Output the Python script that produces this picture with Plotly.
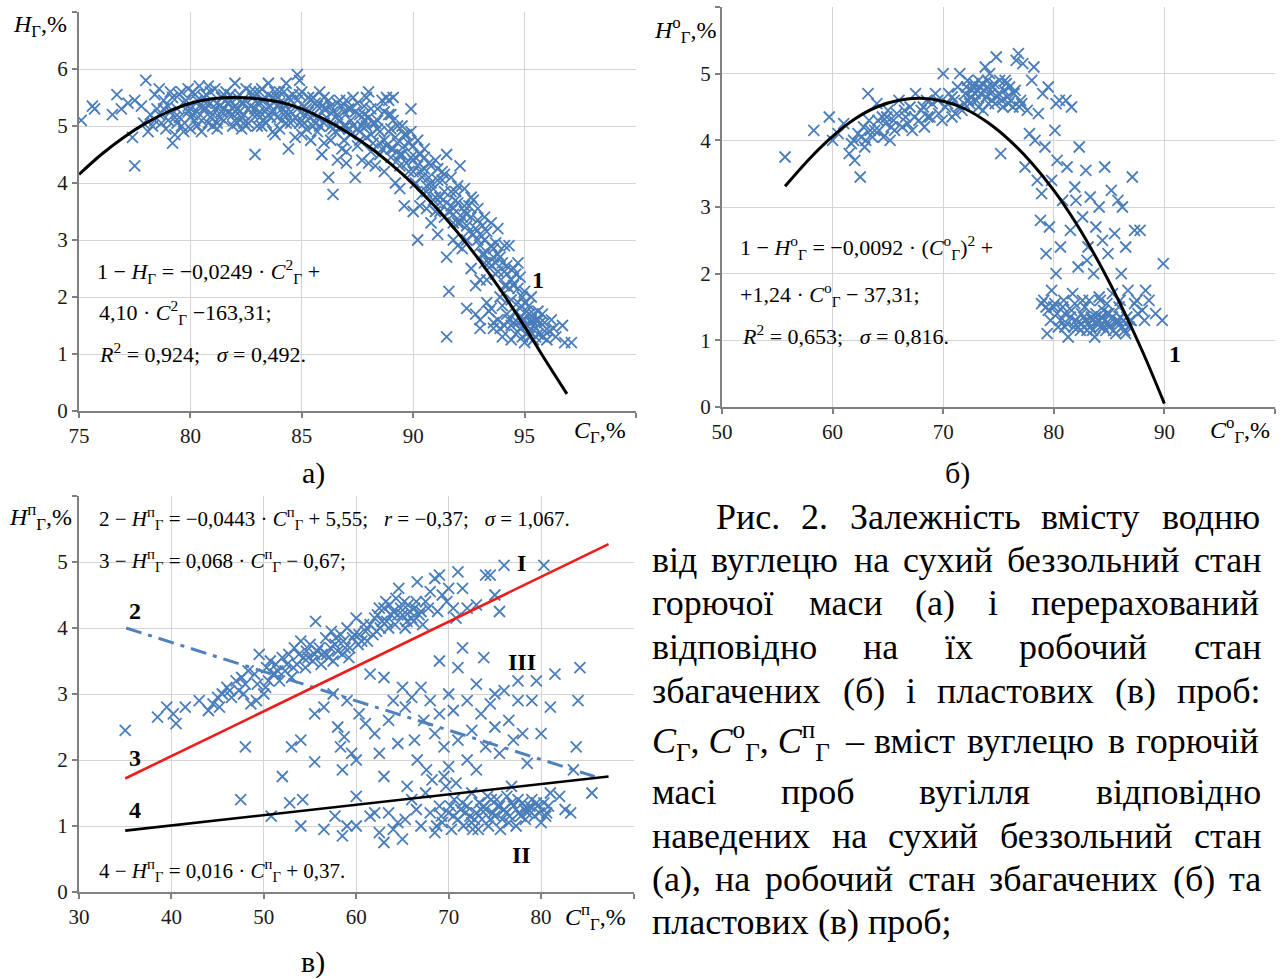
import glob
import struct

import plotly.graph_objects as go

W, H = 1282, 979
SERIF = "Liberation Serif"
BLUE = "#4a7ebb"
GRID = "#d4d4d4"
AXC = "#808080"


def px(x):
    return x / W


def py(y):
    return 1 - y / H


# ---------------- data: panel a ----------------
a_points = [
    (75.1, 5.1), (75.6, 5.35), (75.7, 5.3), (76.5, 5.2), (76.7, 5.55), (76.9, 5.3), (77.2, 5.4), (77.4, 4.8),
    (77.5, 5.45), (77.5, 4.3), (77.8, 5.35), (77.9, 5.05), (78.0, 5.8), (78.1, 4.9), (78.3, 5.0), (78.4, 5.55),
    (78.5, 5.3), (78.6, 5.2), (78.8, 5.45), (79.0, 5.1), (79.1, 5.6), (79.2, 4.7), (79.3, 4.85), (79.4, 5.3),
    (79.5, 5.55), (79.6, 5.0), (79.7, 5.4), (79.9, 5.25), (80.0, 4.95), (80.1, 5.6), (80.2, 5.1), (80.3, 5.45),
    (80.4, 5.7), (80.5, 4.9), (80.6, 5.3), (80.7, 5.55), (80.8, 5.05), (80.9, 5.4), (81.0, 5.2), (81.1, 5.65),
    (81.2, 4.95), (81.3, 5.35), (81.4, 5.5), (81.5, 5.1), (81.6, 5.6), (81.7, 5.25), (81.8, 5.45), (81.9, 5.0),
    (82.0, 5.75), (82.1, 5.3), (82.2, 5.55), (82.3, 5.15), (82.4, 5.4), (82.5, 5.65), (82.6, 5.05), (82.7, 5.35),
    (82.8, 5.5), (82.9, 4.5), (83.0, 5.2), (83.1, 5.6), (83.2, 5.0), (83.3, 5.45), (83.4, 5.3), (83.5, 5.75),
    (83.6, 5.15), (83.7, 5.5), (83.8, 4.85), (83.9, 5.35), (84.0, 5.6), (84.1, 5.1), (84.2, 5.4), (84.3, 5.75),
    (84.4, 4.6), (84.5, 5.25), (84.6, 5.55), (84.7, 4.8), (84.8, 5.9), (84.9, 5.8), (85.0, 5.1), (85.1, 5.35),
    (85.2, 4.95), (85.3, 5.5), (85.4, 4.75), (85.5, 5.2), (85.6, 5.4), (85.7, 4.9), (85.8, 5.6), (85.9, 4.5),
    (86.0, 5.05), (86.1, 5.3), (86.2, 4.1), (86.3, 4.75), (86.4, 3.8), (86.5, 5.15), (86.6, 4.4), (86.7, 5.45),
    (86.8, 4.6), (86.9, 5.0), (87.0, 4.35), (87.1, 5.3), (87.2, 4.85), (87.3, 5.5), (87.4, 4.1), (87.5, 4.65),
    (87.6, 5.2), (87.7, 4.4), (87.8, 5.35), (87.9, 4.8), (88.0, 5.6), (88.1, 4.55), (88.2, 5.05), (88.3, 4.3),
    (88.4, 5.3), (88.5, 4.7), (88.6, 5.45), (88.7, 4.2), (88.8, 5.5), (88.9, 4.9), (89.0, 4.45), (89.1, 5.1),
    (89.2, 4.0), (89.3, 4.7), (89.4, 3.9), (89.5, 4.5), (89.6, 3.6), (89.7, 4.85), (89.8, 4.2), (89.9, 5.3),
    (90.0, 3.5), (90.1, 4.0), (90.2, 3.0), (90.3, 4.5), (90.4, 3.8), (90.5, 4.25), (90.6, 3.55), (90.7, 4.1),
    (90.8, 3.3), (90.9, 3.9), (91.0, 4.4), (91.1, 3.1), (91.2, 3.75), (91.3, 4.2), (91.4, 3.4), (91.5, 2.7),
    (91.5, 4.5), (91.6, 2.1), (91.5, 1.3), (91.7, 3.6), (91.8, 3.0), (91.9, 3.85), (92.0, 3.3), (92.1, 4.3),
    (92.2, 2.85), (92.3, 3.5), (92.4, 1.8), (92.5, 3.15), (92.6, 2.5), (92.7, 3.7), (92.8, 2.2), (92.9, 3.0),
    (93.0, 1.6), (93.1, 2.75), (93.2, 3.4), (93.3, 2.3), (93.4, 1.75), (93.5, 2.9), (93.6, 1.45), (93.7, 2.6),
    (93.8, 3.2), (93.9, 2.0), (94.0, 1.3), (94.1, 2.45), (94.2, 1.7), (94.3, 2.9), (94.4, 1.5), (94.5, 2.2),
    (94.6, 1.35), (94.7, 1.9), (94.8, 2.35), (94.9, 1.6), (95.0, 1.2), (95.1, 1.75), (95.2, 1.4), (95.3, 2.0),
    (95.4, 1.25), (95.5, 1.6), (95.6, 1.35), (95.8, 1.7), (96.0, 1.25), (96.3, 1.45), (96.7, 1.5), (96.8, 1.2),
    (97.1, 1.2), (92.0, 2.9), (93.0, 2.3), (94.2, 2.4), (94.5, 1.55), (95.1, 1.5),
    (78.2, 5.2), (78.7, 5.05), (79.0, 5.35), (79.3, 5.15), (79.8, 5.45), (80.0, 5.3), (80.3, 5.0), (80.6, 5.5),
    (80.9, 5.15), (81.2, 5.4), (81.5, 5.3), (81.8, 5.55), (82.1, 5.05), (82.4, 5.2), (82.7, 5.6), (83.0, 5.4),
    (83.3, 5.1), (83.6, 5.35), (83.9, 5.5), (84.2, 5.2), (84.5, 5.05), (84.8, 5.45), (85.1, 5.2), (85.4, 5.45),
    (85.7, 5.15), (86.0, 5.3), (86.3, 5.0), (86.6, 5.2), (86.9, 4.75), (87.2, 5.1), (87.5, 4.95), (87.8, 5.1),
    (88.1, 4.85), (88.4, 4.95), (88.7, 4.75), (89.0, 4.95), (89.3, 4.4), (89.6, 4.65), (89.9, 4.45), (90.2, 4.3),
    (90.5, 4.6), (90.8, 4.0), (91.1, 4.25), (91.4, 3.85), (91.7, 4.1), (92.0, 3.65), (92.3, 3.9), (92.6, 3.4),
    (92.9, 3.55), (93.2, 3.0), (93.5, 3.3), (93.8, 2.75), (94.1, 2.9), (94.4, 2.3), (94.7, 2.6), (95.0, 1.9),
    (95.3, 1.6), (95.6, 1.75), (95.9, 1.55), (94.0, 1.85), (93.8, 1.6), (94.6, 1.75), (95.2, 1.3), (93.5, 1.8),
    (93.0, 1.45), (92.8, 1.7), (80.0, 5.15), (81.0, 5.0), (82.0, 5.35), (83.0, 5.0), (84.0, 4.95), (85.0, 4.85),
    (86.0, 4.7), (87.0, 4.55), (88.0, 4.35), (89.0, 4.6), (90.0, 4.65), (90.3, 3.6), (91.0, 3.5), (91.8, 3.3),
    (92.4, 3.0), (93.2, 2.6), (93.7, 2.4),
    (78.6, 5.65), (79.2, 5.5), (79.9, 5.65), (80.3, 5.25), (80.8, 5.7), (81.3, 5.15), (81.6, 5.45), (82.2, 5.25),
    (82.5, 5.0), (82.9, 5.3), (83.2, 5.65), (83.5, 5.2), (83.8, 5.6), (84.1, 5.3), (84.4, 5.5), (84.7, 5.15),
    (85.0, 5.6), (85.3, 5.25), (85.6, 5.05), (85.9, 5.35), (86.2, 5.45), (86.5, 4.9), (86.8, 5.35), (87.1, 4.95),
    (87.4, 5.25), (87.7, 5.0), (88.0, 5.15), (88.3, 5.05), (88.6, 4.6), (88.9, 5.2), (89.2, 4.8), (89.5, 5.0),
    (89.8, 4.7), (90.1, 4.45), (90.4, 4.1), (90.7, 4.35), (91.0, 3.75), (91.3, 4.05), (91.6, 3.5), (91.9, 3.7),
    (92.2, 3.4), (92.5, 3.6), (92.8, 3.2), (93.1, 3.25), (93.4, 2.6), (93.7, 2.95), (94.0, 2.6), (94.3, 2.15),
    (94.6, 2.4), (94.9, 2.0), (95.2, 1.85), (95.5, 1.45), (95.8, 1.3), (94.1, 1.5), (94.8, 1.45), (95.4, 1.7),
    (96.1, 1.4), (93.6, 1.55), (94.4, 1.25), (95.0, 1.6), (89.1, 5.5), (88.9, 5.45), (87.9, 5.5), (87.0, 5.0),
    (86.4, 5.25), (79.5, 5.15), (78.9, 4.95), (80.7, 5.3), (81.9, 5.2), (83.1, 5.25), (84.3, 5.05), (85.5, 5.0),
    (86.7, 4.95), (87.6, 4.75), (88.5, 4.5), (89.4, 4.3), (90.0, 4.2), (90.6, 3.85), (91.2, 3.65), (91.8, 3.45),
    (92.4, 3.25), (93.0, 2.9), (93.6, 2.7), (94.2, 2.2), (94.8, 1.8), (95.4, 1.5), (79.7, 4.9), (82.3, 4.95),
    (83.7, 4.9), (84.9, 5.05),
    (78.4, 5.1), (78.8, 5.3), (79.1, 5.25), (79.4, 5.05), (79.6, 5.6), (79.9, 5.35), (80.1, 5.2), (80.2, 5.55),
    (80.4, 5.35), (80.5, 5.1), (80.7, 5.4), (80.9, 5.6), (81.1, 5.3), (81.2, 5.05), (81.4, 5.25), (81.5, 5.55),
    (81.7, 5.4), (81.9, 5.3), (82.0, 5.1), (82.1, 5.5), (82.3, 5.4), (82.4, 5.05), (82.6, 5.3), (82.8, 5.2),
    (82.9, 5.6), (83.1, 5.15), (83.2, 5.45), (83.4, 5.05), (83.5, 5.55), (83.7, 5.25), (83.9, 5.15), (84.0, 5.4),
    (84.2, 5.6), (84.3, 5.25), (84.5, 5.45), (84.6, 5.1), (84.8, 5.3), (84.9, 5.55), (85.1, 5.05), (85.2, 5.3),
    (85.4, 5.15), (85.5, 5.5), (85.7, 5.35), (85.8, 5.0), (86.0, 5.5), (86.1, 5.15), (86.3, 5.35), (86.4, 4.95),
    (86.6, 5.4), (86.7, 5.1), (86.9, 5.25), (87.0, 5.45), (87.2, 5.3), (87.3, 5.0), (87.5, 5.4), (87.6, 4.9),
    (87.8, 5.2), (87.9, 5.0), (88.1, 5.3), (88.2, 4.7), (88.4, 5.1), (88.5, 4.9), (88.7, 5.25), (88.8, 4.65),
    (89.0, 5.2), (89.1, 4.6), (89.3, 5.0), (89.4, 4.5), (89.6, 4.85), (89.7, 4.35), (89.9, 4.9), (90.0, 4.4),
    (90.2, 4.75), (90.3, 4.2), (90.5, 4.45), (90.6, 3.95), (90.8, 4.3), (90.9, 3.7), (91.1, 4.05), (91.2, 3.5),
    (91.4, 4.15), (91.5, 3.65), (91.7, 3.85), (91.8, 3.55), (92.0, 3.95), (92.1, 3.3), (92.3, 3.6), (92.4, 3.45),
    (92.6, 3.75), (92.7, 3.1), (92.9, 3.35), (93.0, 3.1), (93.2, 2.75), (93.3, 3.15), (93.5, 2.55), (93.6, 2.85),
    (93.8, 2.45), (93.9, 2.7), (94.1, 2.2), (94.2, 2.55), (94.4, 1.95), (94.5, 2.5), (94.7, 2.15), (94.8, 1.65),
    (95.0, 2.1), (95.1, 1.35), (95.3, 1.55), (95.5, 1.3), (95.7, 1.55), (95.9, 1.4), (96.2, 1.6), (96.4, 1.3),
    (93.9, 1.45), (94.3, 1.6), (94.9, 1.3), (95.6, 1.6), (95.2, 1.7), (94.7, 1.55), (93.3, 1.9),
]
a_curve_x = [75, 76, 77, 78, 79, 80, 81, 82, 83, 84, 85, 86, 87, 88, 89, 90, 91, 92, 93, 94, 95, 96, 96.9]
a_curve_y = [4.15, 4.5, 4.8, 5.05, 5.25, 5.4, 5.48, 5.5, 5.48, 5.42, 5.3, 5.12, 4.9, 4.64, 4.33, 3.98,
             3.58, 3.13, 2.63, 2.08, 1.48, 0.85, 0.3]

# ---------------- data: panel b ----------------
b_points = [
    (55.7, 3.75), (58.3, 4.15), (59.7, 4.35), (60.0, 4.0), (60.5, 4.1), (61.0, 4.25), (61.5, 3.8), (61.7, 3.95),
    (62.0, 3.7), (62.3, 4.1), (62.5, 3.45), (62.8, 4.2), (63.0, 4.0), (63.2, 4.7), (63.3, 4.3), (63.6, 4.05),
    (64.0, 4.55), (64.2, 4.15), (64.5, 4.35), (64.8, 4.25), (65.0, 4.45), (65.2, 4.0), (65.5, 4.3), (65.8, 4.4),
    (66.0, 4.6), (66.3, 4.2), (66.6, 4.35), (67.0, 4.5), (67.2, 4.15), (67.5, 4.7), (67.8, 4.3), (68.0, 4.45),
    (68.3, 4.2), (68.5, 4.6), (68.8, 4.35), (69.0, 4.55), (69.3, 4.7), (69.6, 4.4), (70.0, 5.0), (70.2, 4.5),
    (70.5, 4.7), (70.8, 4.35), (71.0, 4.6), (71.3, 4.8), (71.5, 5.0), (71.7, 4.45), (72.0, 4.7), (72.2, 4.9),
    (72.4, 4.55), (72.6, 4.75), (72.8, 4.85), (73.0, 4.6), (73.2, 4.9), (73.4, 4.7), (73.6, 4.45), (73.8, 5.1),
    (74.0, 4.8), (74.2, 5.0), (74.4, 4.6), (74.6, 4.85), (74.8, 5.25), (75.0, 4.7), (75.2, 3.8), (75.4, 4.5),
    (75.6, 4.9), (75.8, 4.65), (76.0, 4.8), (76.3, 4.5), (76.6, 5.2), (76.8, 5.3), (77.0, 4.6), (77.2, 5.15),
    (77.4, 3.6), (77.6, 4.45), (77.8, 4.1), (78.0, 4.9), (78.2, 5.1), (78.3, 4.0), (78.5, 3.4), (78.6, 4.4),
    (78.8, 2.8), (78.9, 3.2), (79.0, 4.7), (79.1, 1.6), (79.2, 3.9), (79.3, 2.3), (79.4, 1.1), (79.5, 4.8),
    (79.6, 2.7), (79.8, 3.4), (80.0, 1.5), (80.1, 4.15), (80.2, 2.0), (80.3, 3.7), (80.4, 1.2), (80.5, 4.6),
    (80.6, 2.4), (80.8, 3.1), (81.0, 1.4), (81.2, 3.6), (81.3, 1.05), (81.5, 2.65), (81.6, 4.5), (81.7, 1.7),
    (81.9, 3.3), (82.0, 1.3), (82.2, 2.1), (82.3, 3.9), (82.5, 1.25), (82.6, 2.85), (82.8, 1.5), (82.9, 3.55),
    (83.0, 1.15), (83.1, 2.4), (83.3, 3.15), (83.4, 1.35), (83.6, 2.0), (83.7, 1.05), (83.8, 2.7), (84.0, 1.3),
    (84.1, 3.0), (84.2, 1.6), (84.4, 2.5), (84.5, 1.2), (84.6, 3.6), (84.8, 1.4), (84.9, 2.3), (85.0, 1.25),
    (85.2, 3.25), (85.3, 1.7), (85.5, 2.6), (85.6, 1.1), (85.8, 3.1), (86.0, 1.35), (86.1, 2.0), (86.2, 3.0),
    (86.4, 1.15), (86.5, 2.4), (86.7, 1.75), (86.9, 1.3), (87.1, 3.45), (87.3, 2.65), (87.5, 1.6), (87.8, 2.65),
    (88.0, 1.45), (88.3, 1.75), (88.6, 1.6), (89.2, 1.4), (89.8, 1.3), (89.9, 2.15), (81.5, 1.35), (82.5, 1.4),
    (83.5, 1.3), (84.5, 1.45), (85.0, 1.2), (79.5, 1.45), (80.8, 1.5), (82.0, 3.1), (83.0, 2.2), (80.2, 4.55),
    (81.1, 4.6), (79.8, 1.75), (78.9, 1.55), (81.8, 1.2), (83.8, 1.4), (86.5, 1.1), (87.0, 1.3),
    (72.3, 4.6), (72.7, 4.8), (73.1, 4.75), (73.5, 4.85), (73.9, 4.65), (74.3, 4.7), (74.7, 4.55), (75.1, 4.9),
    (75.5, 4.75), (75.9, 4.55), (76.4, 4.7), (77.1, 4.55), (71.4, 4.5), (70.8, 4.65), (69.9, 4.3), (65.3, 4.2),
    (64.6, 4.05), (63.8, 4.15), (62.9, 3.9), (61.9, 4.0), (66.8, 4.25), (68.6, 4.35), (82.2, 1.2), (82.9, 1.3),
    (83.3, 1.2), (83.9, 1.25), (84.3, 1.35), (84.7, 1.15), (85.3, 1.35), (85.7, 1.25), (86.3, 1.3), (81.2, 1.25),
    (80.6, 1.3), (80.1, 1.55), (79.3, 1.5), (86.8, 1.2), (87.3, 1.55), (85.9, 1.5), (83.2, 1.6), (81.9, 1.55),
    (84.1, 1.65),
    (72.1, 4.8), (72.5, 4.65), (72.9, 4.7), (73.3, 4.8), (73.7, 4.75), (74.1, 4.55), (74.5, 4.8), (74.9, 4.65),
    (75.3, 4.6), (75.7, 4.85), (76.1, 4.6), (76.5, 4.75), (76.9, 4.5), (73.2, 4.5), (74.0, 4.9), (71.9, 4.55),
    (71.1, 4.4), (70.4, 4.55), (69.5, 4.6), (68.2, 4.5), (67.4, 4.35), (66.5, 4.45), (65.6, 4.15), (64.9, 4.35),
    (64.1, 4.3), (63.4, 4.15), (62.6, 4.05), (82.4, 1.15), (82.7, 1.35), (83.1, 1.25), (83.5, 1.15), (83.8, 1.35),
    (84.2, 1.2), (84.6, 1.3), (85.0, 1.4), (85.4, 1.15), (85.8, 1.3), (86.2, 1.2), (86.6, 1.35), (81.6, 1.45),
    (81.0, 1.2), (80.3, 1.4), (79.7, 1.3), (80.9, 1.6), (82.6, 1.6), (84.8, 1.55), (86.0, 1.6), (87.6, 1.4),
    (88.2, 1.3),
]
b_curve_x = [55.7, 58, 60, 62, 64, 66, 68, 70, 72, 74, 76, 78, 80, 82, 84, 86, 88, 90]
b_curve_y = [3.31, 3.74, 4.06, 4.32, 4.5, 4.6, 4.63, 4.585, 4.47, 4.27, 4.0, 3.66, 3.25, 2.76, 2.19,
             1.55, 0.84, 0.05]

# ---------------- data: panel c ----------------
c_points = [
    (35.0, 2.45), (38.5, 2.65), (39.5, 2.8), (40.2, 2.7), (40.5, 2.55), (41.5, 2.8), (43.0, 2.9), (44.0, 2.75),
    (44.5, 2.85), (45.0, 2.95), (45.5, 3.0), (46.0, 3.1), (46.5, 2.95), (47.0, 3.2), (47.3, 3.05), (47.6, 3.25),
    (48.0, 3.15), (48.3, 3.35), (48.6, 2.85), (49.0, 3.3), (49.5, 3.6), (50.0, 3.0), (50.3, 3.4), (50.7, 3.5),
    (51.0, 3.3), (51.3, 3.45), (51.7, 3.2), (52.0, 3.55), (52.3, 3.35), (52.7, 3.6), (53.0, 3.25), (53.3, 3.7),
    (53.6, 3.45), (54.0, 3.8), (54.3, 3.55), (54.6, 3.65), (55.0, 3.75), (55.3, 3.5), (55.6, 4.1), (56.0, 3.7),
    (56.3, 3.6), (56.7, 3.85), (57.0, 3.55), (57.3, 3.95), (57.7, 3.75), (58.0, 3.65), (58.3, 3.9), (58.6, 3.8),
    (59.0, 4.0), (59.3, 3.7), (59.6, 3.85), (60.0, 4.15), (60.3, 3.9), (60.6, 3.8), (61.0, 3.95), (61.5, 4.05),
    (62.0, 4.15), (62.3, 4.2), (62.6, 4.0), (63.0, 4.3), (63.3, 4.1), (63.6, 4.35), (64.0, 4.25), (64.3, 4.45),
    (64.6, 4.6), (65.0, 4.2), (65.3, 4.0), (65.6, 4.35), (66.0, 4.15), (66.3, 4.3), (66.6, 4.7), (67.0, 4.25),
    (67.5, 4.4), (68.0, 4.55), (68.5, 4.75), (69.0, 4.8), (69.3, 4.5), (70.0, 4.6), (70.5, 4.3), (71.0, 4.85),
    (71.5, 4.6), (72.0, 4.3), (73.0, 4.35), (74.0, 4.8), (74.5, 4.8), (75.5, 4.25), (75.0, 4.5), (76.0, 4.95),
    (80.3, 4.95),
    (48.0, 2.2), (52.0, 1.75), (53.0, 2.2), (54.0, 2.3), (55.5, 2.7), (55.5, 1.97), (56.5, 2.8), (57.5, 3.0),
    (58.0, 2.5), (58.3, 2.2), (58.5, 1.85), (58.7, 2.35), (59.0, 2.9), (59.5, 2.1), (60.0, 2.0), (60.0, 1.45),
    (60.3, 2.7), (61.0, 2.55), (61.5, 3.3), (62.0, 2.4), (62.5, 2.1), (63.0, 1.75), (63.0, 3.25), (63.5, 2.6),
    (64.0, 2.9), (64.5, 2.25), (65.0, 3.1), (65.3, 2.8), (65.5, 1.6), (66.0, 2.95), (66.3, 2.3), (66.6, 2.0),
    (67.0, 3.1), (67.3, 2.6), (67.6, 1.85), (68.0, 2.9), (68.5, 2.4), (69.0, 3.5), (69.0, 2.7), (69.5, 2.2),
    (70.0, 3.0), (70.0, 1.9), (70.5, 2.75), (71.0, 3.4), (71.0, 2.3), (71.5, 3.7), (72.0, 2.9), (72.0, 2.0),
    (72.5, 2.45), (73.0, 3.15), (73.0, 1.85), (73.5, 2.7), (73.8, 3.55), (74.0, 2.2), (74.5, 2.85), (75.0, 3.0),
    (75.0, 2.5), (75.5, 2.1), (76.0, 3.05), (76.5, 2.6), (77.0, 2.3), (77.5, 2.9), (77.5, 3.2), (78.0, 2.4),
    (78.5, 1.95), (79.0, 2.9), (79.5, 3.2), (80.0, 2.4), (81.0, 2.8), (81.5, 3.3), (83.8, 2.2), (84.0, 2.9),
    (84.2, 3.4), (83.5, 1.85), (85.5, 1.5),
    (47.5, 1.4), (50.8, 1.15), (52.8, 1.35), (54.0, 1.0), (54.2, 1.4), (56.5, 0.95), (57.7, 1.15), (58.5, 0.85),
    (59.0, 1.0), (60.0, 1.0), (61.5, 1.15), (62.0, 1.2), (62.5, 0.9), (63.0, 0.75), (63.5, 1.2), (64.0, 0.95),
    (64.5, 1.05), (65.0, 0.8), (65.3, 1.1), (66.0, 1.4), (66.5, 1.25), (67.0, 1.0), (67.5, 1.5), (68.0, 1.2),
    (68.5, 0.9), (69.0, 1.3), (69.3, 1.05), (69.7, 1.6), (70.0, 1.2), (70.3, 0.95), (70.6, 1.4), (71.0, 1.1),
    (71.3, 1.25), (71.6, 1.0), (72.0, 1.3), (72.3, 1.15), (72.6, 0.95), (73.0, 1.2), (73.3, 1.35), (73.6, 1.1),
    (74.0, 1.25), (74.3, 1.0), (74.6, 1.4), (75.0, 1.15), (75.3, 1.3), (75.6, 0.95), (76.0, 1.25), (76.3, 1.45),
    (76.6, 1.15), (77.0, 1.3), (77.3, 1.0), (77.6, 1.2), (78.0, 1.35), (78.3, 1.1), (78.6, 1.25), (79.0, 1.4),
    (79.3, 1.15), (79.6, 1.3), (80.0, 1.05), (80.3, 1.35), (80.6, 1.2), (81.0, 1.5), (82.0, 1.45), (82.6, 1.25),
    (83.2, 1.2), (68.2, 1.7), (69.5, 1.75), (70.8, 1.65), (72.5, 1.5), (76.8, 1.6),
    (46.3, 3.05), (47.8, 3.0), (49.3, 3.15), (50.5, 3.2), (51.5, 3.35), (52.5, 3.45), (53.8, 3.6), (54.8, 3.55),
    (55.8, 3.65), (56.8, 3.6), (57.8, 3.85), (58.8, 3.7), (59.8, 3.9), (60.8, 4.05), (61.8, 3.9), (62.8, 4.1),
    (63.8, 4.2), (64.8, 4.3), (65.8, 4.25), (66.8, 4.2), (67.8, 4.3), (68.8, 4.25), (69.8, 4.4), (70.8, 4.15),
    (63.2, 4.4), (64.2, 4.05), (65.2, 4.4), (66.2, 4.1), (67.2, 4.05), (62.2, 3.95), (61.2, 3.8), (60.2, 3.75),
    (59.2, 3.55), (57.2, 3.7), (56.2, 3.45), (53.2, 3.4), (51.2, 3.3), (50.2, 3.1), (49.2, 2.9), (45.2, 2.8),
    (71.8, 1.2), (72.8, 1.1), (73.8, 1.3), (74.8, 1.2), (75.8, 1.1), (76.8, 1.35), (77.8, 1.15), (78.8, 1.3),
    (79.8, 1.2), (80.8, 1.3), (70.2, 1.3), (69.2, 1.15), (68.7, 1.0), (73.2, 0.95), (75.2, 1.4), (74.2, 1.45),
    (76.2, 1.2), (78.2, 1.25),
    (70.5, 1.15), (71.5, 1.35), (72.5, 1.05), (73.5, 1.25), (74.5, 1.1), (75.5, 1.3), (76.5, 1.05), (77.5, 1.4),
    (78.5, 1.2), (79.5, 1.35), (80.5, 1.15), (64.5, 4.2), (65.5, 4.1), (66.5, 4.4), (63.5, 4.0), (62.5, 4.3),
    (58.5, 3.6), (57.5, 3.5), (55.5, 3.6), (54.5, 3.4),
]
c_line2_x = [35.1, 85.8]
c_line2_y = [4.0, 1.75]
c_line3_x = [35.0, 87.3]
c_line3_y = [1.72, 5.27]
c_line4_x = [35.0, 87.3]
c_line4_y = [0.93, 1.75]

# tick labels
a_xticks = [75, 80, 85, 90, 95, 100]
a_xlabels = ["75", "80", "85", "90", "95", ""]
a_yticks = [0, 1, 2, 3, 4, 5, 6, 7]
a_ylabels = ["0", "1", "2", "3", "4", "5", "6", ""]
b_xticks = [50, 60, 70, 80, 90, 100]
b_xlabels = ["50", "60", "70", "80", "90", ""]
b_yticks = [0, 1, 2, 3, 4, 5, 6]
b_ylabels = ["0", "1", "2", "3", "4", "5", ""]
c_xticks = [30, 40, 50, 60, 70, 80, 90]
c_xlabels = ["30", "40", "50", "60", "70", "80", ""]
c_yticks = [0, 1, 2, 3, 4, 5, 6]
c_ylabels = ["0", "1", "2", "3", "4", "5", ""]

# caption text (words of each justified line)
caption_words = [
    ["Рис.", "2.", "Залежність", "вмісту", "водню"],
    ["від", "вуглецю", "на", "сухий", "беззольний", "стан"],
    ["горючої", "маси", "(а)", "і", "перерахований"],
    ["відповідно", "на", "їх", "робочий", "стан"],
    ["збагачених", "(б)", "і", "пластових", "(в)", "проб:"],
    ["MATH", "–", "вміст", "вуглецю", "в", "горючій"],
    ["масі", "проб", "вугілля", "відповідно"],
    ["наведених", "на", "сухий", "беззольний", "стан"],
    ["(а),", "на", "робочий", "стан", "збагачених", "(б)", "та"],
    ["пластових", "(в)", "проб;"],
]


# ---------- text measuring (for justified caption layout) ----------
def make_measure():
    paths = glob.glob("/usr/share/fonts/**/LiberationSerif-Regular.ttf", recursive=True)
    if not paths:
        return None
    try:
        data = open(paths[0], "rb").read()
        nt = struct.unpack(">H", data[4:6])[0]
        tables = {}
        for i in range(nt):
            tag, _, off, ln = struct.unpack(">4sIII", data[12 + 16 * i:28 + 16 * i])
            tables[tag.decode("latin1")] = off
        upem = struct.unpack(">H", data[tables["head"] + 18:tables["head"] + 20])[0]
        nhm = struct.unpack(">H", data[tables["hhea"] + 34:tables["hhea"] + 36])[0]
        ho = tables["hmtx"]
        adv = [struct.unpack(">H", data[ho + 4 * i:ho + 4 * i + 2])[0] for i in range(nhm)]
        co = tables["cmap"]
        n = struct.unpack(">H", data[co + 2:co + 4])[0]
        sub = None
        for i in range(n):
            pid, eid, so = struct.unpack(">HHI", data[co + 4 + 8 * i:co + 12 + 8 * i])
            fmt = struct.unpack(">H", data[co + so:co + so + 2])[0]
            if pid == 3 and eid == 1 and fmt == 4:
                sub = co + so
        if sub is None:
            return None
        segx2 = struct.unpack(">H", data[sub + 6:sub + 8])[0]
        seg = segx2 // 2
        ends = struct.unpack(">%dH" % seg, data[sub + 14:sub + 14 + segx2])
        starts = struct.unpack(">%dH" % seg, data[sub + 16 + segx2:sub + 16 + 2 * segx2])
        deltas = struct.unpack(">%dh" % seg, data[sub + 16 + 2 * segx2:sub + 16 + 3 * segx2])
        rpos = sub + 16 + 3 * segx2
        roffs = struct.unpack(">%dH" % seg, data[rpos:rpos + segx2])

        def gid(c):
            for i in range(seg):
                if starts[i] <= c <= ends[i]:
                    if roffs[i] == 0:
                        return (c + deltas[i]) & 0xFFFF
                    addr = rpos + 2 * i + roffs[i] + 2 * (c - starts[i])
                    g = struct.unpack(">H", data[addr:addr + 2])[0]
                    return (g + deltas[i]) & 0xFFFF if g else 0
            return 0

        def measure(s, size):
            tot = 0
            for ch in s:
                g = gid(ord(ch))
                tot += adv[min(g, nhm - 1)]
            return tot * size / upem

        return measure
    except Exception:
        return None


_m = make_measure()


def measure(s, size):
    if _m is not None:
        return _m(s, size)
    return sum(0.28 if ch in " іїl.,:;()" else 0.48 for ch in s) * size


marker = dict(symbol="x-thin", size=11, line=dict(width=1.8, color=BLUE), color=BLUE)

fig = go.Figure()
fig.add_trace(go.Scatter(x=[p[0] for p in a_points], y=[p[1] for p in a_points], mode="markers",
                         marker=marker, xaxis="x", yaxis="y", showlegend=False))
fig.add_trace(go.Scatter(x=a_curve_x, y=a_curve_y, mode="lines", line=dict(color="black", width=3, shape="spline"),
                         xaxis="x", yaxis="y", showlegend=False))
fig.add_trace(go.Scatter(x=[p[0] for p in b_points], y=[p[1] for p in b_points], mode="markers",
                         marker=marker, xaxis="x2", yaxis="y2", showlegend=False))
fig.add_trace(go.Scatter(x=b_curve_x, y=b_curve_y, mode="lines", line=dict(color="black", width=3, shape="spline"),
                         xaxis="x2", yaxis="y2", showlegend=False))
fig.add_trace(go.Scatter(x=[p[0] for p in c_points], y=[p[1] for p in c_points], mode="markers",
                         marker=marker, xaxis="x3", yaxis="y3", showlegend=False))
fig.add_trace(go.Scatter(x=c_line2_x, y=c_line2_y, mode="lines",
                         line=dict(color="#4f81bd", width=3, dash="16px,7px,4px,7px"),
                         xaxis="x3", yaxis="y3", showlegend=False))
fig.add_trace(go.Scatter(x=c_line3_x, y=c_line3_y, mode="lines", line=dict(color="#ee1c1c", width=2.6),
                         xaxis="x3", yaxis="y3", showlegend=False))
fig.add_trace(go.Scatter(x=c_line4_x, y=c_line4_y, mode="lines", line=dict(color="black", width=2.6),
                         xaxis="x3", yaxis="y3", showlegend=False))


def axis(domain, rng, tv, tt, anchor):
    return dict(domain=domain, range=rng, tickvals=tv, ticktext=tt, anchor=anchor, automargin=False,
                showgrid=True, gridcolor=GRID, gridwidth=1.3, zeroline=False,
                showline=True, linecolor=AXC, linewidth=2, ticks="outside", ticklen=5,
                tickcolor=AXC, tickwidth=1.5,
                tickfont=dict(family=SERIF, size=21, color="#1a1a1a"))


fig.update_layout(
    width=W, height=H, margin=dict(l=0, r=0, t=0, b=0, pad=0), autosize=False,
    paper_bgcolor="white", plot_bgcolor="white",
    xaxis=axis([px(79), px(636)], [75, 100], a_xticks, a_xlabels, "y"),
    yaxis=axis([py(411), py(12)], [0, 7], a_yticks, a_ylabels, "x"),
    xaxis2=axis([px(722), px(1275)], [50, 100], b_xticks, b_xlabels, "y2"),
    yaxis2=axis([py(407), py(7)], [0, 6], b_yticks, b_ylabels, "x2"),
    xaxis3=axis([px(79), px(633.5)], [30, 90], c_xticks, c_xlabels, "y3"),
    yaxis3=axis([py(892), py(496)], [0, 6], c_yticks, c_ylabels, "x3"),
)

# white boxes behind equations (hide gridlines)
boxes = [(88, 250, 342, 372), (733, 226, 997, 354), (92, 499, 622, 541), (92, 541, 355, 578), (92, 850, 358, 890)]
for x0, y0, x1, y1 in boxes:
    fig.add_shape(type="rect", xref="paper", yref="paper", x0=px(x0), x1=px(x1), y0=py(y1), y1=py(y0),
                  fillcolor="white", line=dict(width=0), layer="between")

ann = []


def text(x, y, s, size=22, anchor="left", bold=False, color="black"):
    if bold:
        s = "<b>" + s + "</b>"
    ann.append(dict(x=px(x), y=py(y), xref="paper", yref="paper", text=s, showarrow=False,
                    xanchor=anchor, yanchor="middle", font=dict(family=SERIF, size=size, color=color)))


H_ = "<i>H</i>"
C_ = "<i>C</i>"
G = "<sub>Г</sub>"

# panel a
text(40, 26, H_ + G + ",%", 24, "center")
text(600, 432, C_ + G + ",%", 24, "center")
text(95, 271, "1 − " + H_ + G + " = −0,0249 · " + C_ + "<sup>2</sup>" + G + " +", 22)
text(97, 312, "4,10 · " + C_ + "<sup>2</sup>" + G + " −163,31;", 22)
text(97, 353, "<i>R</i><sup>2</sup> = 0,924;   <i>σ</i> = 0,492.", 22)
text(538, 280, "1", 24, "center", bold=True)
text(313, 473, "а)", 30, "center")

# panel b
text(685, 30, H_ + "<sup>о</sup>" + G + ",%", 24, "center")
text(1240, 430, C_ + "<sup>о</sup>" + G + ",%", 24, "center")
text(738, 247, "1 − " + H_ + "<sup>о</sup>" + G + " = −0,0092 · (" + C_ + "<sup>о</sup>" + G + ")<sup>2</sup> +", 22)
text(738, 294, "+1,24 · " + C_ + "<sup>о</sup>" + G + " − 37,31;", 22)
text(740, 335, "<i>R</i><sup>2</sup> = 0,653;   <i>σ</i> = 0,816.", 22)
text(1175, 354, "1", 24, "center", bold=True)
text(957, 473, "б)", 30, "center")

# panel c
text(40, 517, H_ + "<sup>п</sup>" + G + ",%", 24, "center")
text(595, 917, C_ + "<sup>п</sup>" + G + ",%", 24, "center")
text(97, 518, "2 − " + H_ + "<sup>п</sup>" + G + " = −0,0443 · " + C_ + "<sup>п</sup>" + G
     + " + 5,55;   <i>r</i> = −0,37;   <i>σ</i> = 1,067.", 21)
text(97, 560, "3 − " + H_ + "<sup>п</sup>" + G + " = 0,068 · " + C_ + "<sup>п</sup>" + G + " − 0,67;", 21)
text(97, 870, "4 − " + H_ + "<sup>п</sup>" + G + " = 0,016 · " + C_ + "<sup>п</sup>" + G + " + 0,37.", 21)
text(521, 563, "I", 24, "center", bold=True)
text(522, 662, "III", 24, "center", bold=True)
text(521, 855, "II", 24, "center", bold=True)
text(135, 611, "2", 24, "center", bold=True)
text(135, 758, "3", 24, "center", bold=True)
text(135, 810, "4", 24, "center", bold=True)
text(313, 962, "в)", 30, "center")

# caption: justified between left/right margins
LEFT, RIGHT, INDENT = 652, 1261, 716
line_y = [517, 560, 603, 647, 691, 741, 792, 836, 879, 922]
MATH = C_ + G + ", " + C_ + "<sup>о</sup>" + G + ", " + C_ + "<sup>п</sup>" + G


def word_w(w, size):
    if w == "MATH":
        return 5.05 * size  # approx width of "C_Г, C°_Г, Cп_Г"
    return measure(w, size)


# font size so that the tightest justified line fits
sizes = []
for i, words in enumerate(caption_words[:-1]):
    if "MATH" in words:
        continue
    left = INDENT if i == 0 else LEFT
    nat = sum(word_w(w, 1.0) for w in words) + measure(" ", 1.0) * 1.05 * (len(words) - 1)
    sizes.append((RIGHT - left) / nat)
CAP = max(28.0, min(36.0, min(sizes)))

for i, words in enumerate(caption_words):
    y = line_y[i]
    left = INDENT if i == 0 else LEFT
    if i == len(caption_words) - 1:
        gap = measure(" ", CAP)
    else:
        total = sum(word_w(w, CAP) for w in words)
        gap = (RIGHT - left - total) / (len(words) - 1)
    x = left
    for w in words:
        s = MATH if w == "MATH" else w
        text(x - 2, y, s, CAP, "left")
        x += word_w(w, CAP) + gap

fig.update_layout(annotations=ann)
fig.write_html("out.html", config={"displayModeBar": False},
               post_script="document.body.style.margin='0';document.body.style.overflow='hidden';")
